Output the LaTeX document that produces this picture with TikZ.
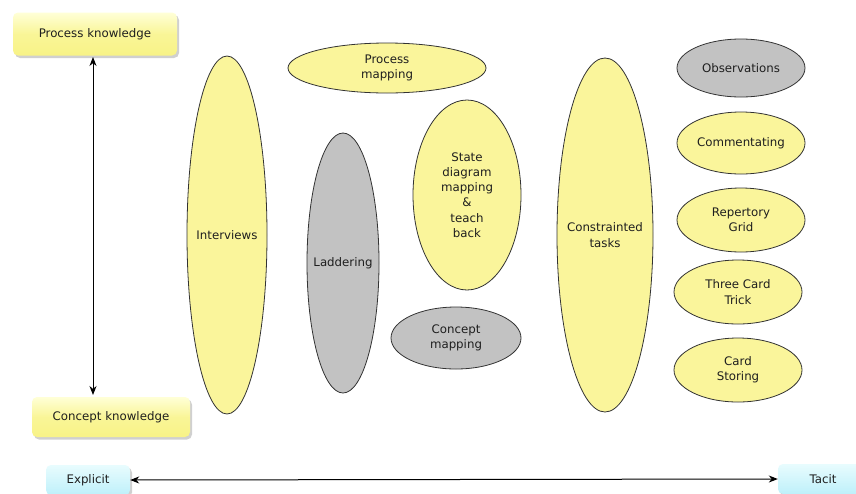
\documentclass[tikz,border=0pt]{standalone}
\usepackage{fontspec}
\setmainfont{DejaVu Sans}
\usetikzlibrary{shapes.geometric,shadows,arrows.meta}
\definecolor{ovalyellow}{RGB}{250,245,155}
\definecolor{ovalgray}{RGB}{194,194,194}
\definecolor{boxyellowtop}{RGB}{255,255,215}
\definecolor{boxyellowbot}{RGB}{248,243,135}
\definecolor{boxcyantop}{RGB}{232,252,254}
\definecolor{boxcyanbot}{RGB}{190,240,250}
\begin{document}
\begin{tikzpicture}[x=1pt,y=-1pt,
  every node/.style={font=\fontsize{11.8}{15.2}\selectfont, text=black!88},
  % the oval keeps its given size; its caption sits at the centre as a label
  oval/.style={ellipse, draw=black!80, line width=0.8pt, inner sep=0pt,
    label={[align=center, inner sep=0pt]center:#1}},
  yoval/.style={oval=#1, fill=ovalyellow},
  goval/.style={oval=#1, fill=ovalgray},
  kbox/.style={rounded corners=5pt, draw=none, inner sep=0pt,
    drop shadow={shadow xshift=2pt, shadow yshift=-2.5pt, opacity=0.3, fill=black!60}},
  ybox/.style={kbox, top color=boxyellowtop, bottom color=boxyellowbot, middle color=boxyellowbot!80!boxyellowtop},
  cbox/.style={kbox, top color=boxcyantop, bottom color=boxcyanbot},
  axis/.style={{Stealth[length=9pt,width=7pt]}-{Stealth[length=9pt,width=7pt]}, line width=1pt, black}
]
\clip (0,0) rectangle (856,493);
\fill[white] (0,0) rectangle (856,493);

% knowledge-type axis labels
\node[ybox, minimum width=164pt, minimum height=43pt] (proc) at (95,34) {Process knowledge};
\node[ybox, minimum width=158pt, minimum height=40pt] (conc) at (111,417) {Concept knowledge};
\node[cbox, minimum width=84pt, minimum height=30pt] (expl) at (88,480) {Explicit};
\node[cbox, minimum width=90pt, minimum height=30pt] (tacit) at (823,479) {Tacit};

\coordinate (vtop) at (93,57);
\coordinate (vbot) at (93,395);
\draw[axis] (vtop) -- (vbot);
\draw[axis] (expl.east) -- (tacit.west);

% elicitation techniques
\node[yoval={Interviews}, minimum width=80pt, minimum height=358pt] (interv) at (227,235) {};
\node[yoval={Process\\mapping}, minimum width=198pt, minimum height=50pt] (pmap) at (387,68) {};
\node[goval={Laddering}, minimum width=72pt, minimum height=260pt] (ladder) at (343,263) {};
\node[yoval={State\\diagram\\mapping\\\&\\teach\\back}, minimum width=108pt, minimum height=190pt] (state) at (467,195) {};
\node[goval={Concept\\mapping}, minimum width=130pt, minimum height=62pt] (cmap) at (456,338) {};
\node[yoval={Constrainted\\tasks}, minimum width=96pt, minimum height=354pt] (ctask) at (605,235) {};
\node[goval={Observations}, minimum width=128pt, minimum height=58pt] (obs) at (741,68) {};
\node[yoval={Commentating}, minimum width=128pt, minimum height=62pt] (comm) at (741,143) {};
\node[yoval={Repertory\\Grid}, minimum width=128pt, minimum height=64pt] (rep) at (741,220) {};
\node[yoval={Three Card\\Trick}, minimum width=128pt, minimum height=64pt] (three) at (738,292) {};
\node[yoval={Card\\Storing}, minimum width=128pt, minimum height=64pt] (card) at (738,370) {};
\end{tikzpicture}
\end{document}
